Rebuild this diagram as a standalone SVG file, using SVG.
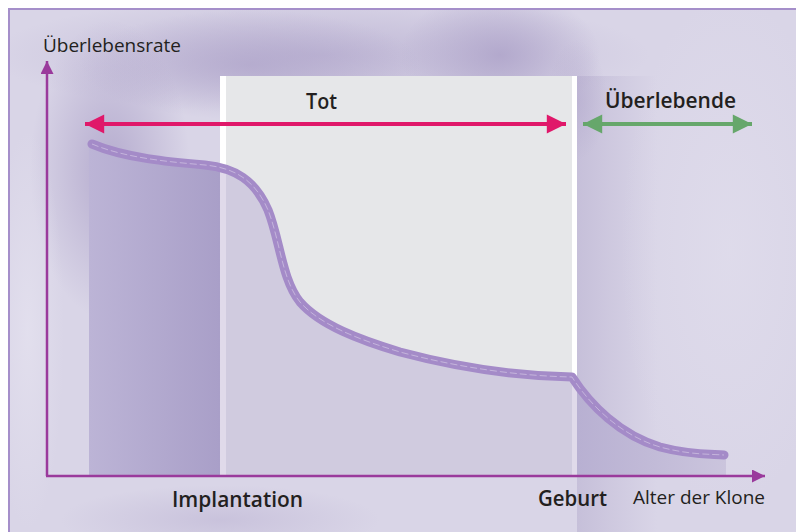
<svg xmlns="http://www.w3.org/2000/svg" width="796" height="532" viewBox="0 0 796 532">
<defs>
<style>
.lbl{font-family:"Open Sans","Noto Sans","Liberation Sans",sans-serif;fill:#231f20}
.reg{font-size:18px;font-weight:400}
.bold{font-size:21px;font-weight:600}
.axis{stroke:#9a3a9c;stroke-width:2.5;fill:none}
</style>
<clipPath id="frameClip"><rect x="10" y="10" width="786" height="522"/></clipPath>
<radialGradient id="blot" cx="0.5" cy="0.5" r="0.5">
<stop offset="0" stop-color="#aca1c8" stop-opacity="0.8"/>
<stop offset="1" stop-color="#aca1c8" stop-opacity="0"/>
</radialGradient>
<radialGradient id="lite" cx="0.5" cy="0.5" r="0.5">
<stop offset="0" stop-color="#e3e0ee" stop-opacity="0.9"/>
<stop offset="1" stop-color="#e3e0ee" stop-opacity="0"/>
</radialGradient>
<linearGradient id="rightEdge" x1="0" y1="0" x2="1" y2="0">
<stop offset="0" stop-color="#b3aacc" stop-opacity="0.5"/>
<stop offset="1" stop-color="#b3aacc" stop-opacity="0"/>
</linearGradient>
<linearGradient id="leftFill" x1="0" y1="0" x2="1" y2="0">
<stop offset="0" stop-color="#bcb4d6"/>
<stop offset="1" stop-color="#a99fc8"/>
</linearGradient>
<linearGradient id="rightFill" x1="0" y1="0" x2="1" y2="0">
<stop offset="0" stop-color="#b8b0d2"/>
<stop offset="1" stop-color="#cbc5dd"/>
</linearGradient>
<clipPath id="under">
<path d="M 89,144 L 92,144 C 125,158 170,162 205,165 C 235,168 255,180 268,210 C 280,240 282,280 300,302 C 320,325 360,340 400,352 C 460,368 520,376 572,377 C 590,405 620,435 660,447 C 690,455 710,454 726,455 L 726,475 L 89,475 Z"/>
</clipPath>
<marker id="mPink" viewBox="0 0 10 10" refX="10" refY="5" markerWidth="5.5" markerHeight="4.8" markerUnits="strokeWidth" orient="auto-start-reverse">
<path d="M0,0 L10,5 L0,10 Z" fill="#e0186a"/>
</marker>
<marker id="mGreen" viewBox="0 0 10 10" refX="10" refY="5" markerWidth="5.5" markerHeight="4.8" markerUnits="strokeWidth" orient="auto-start-reverse">
<path d="M0,0 L10,5 L0,10 Z" fill="#66a76b"/>
</marker>
<marker id="mAxis" viewBox="0 0 10 10" refX="10" refY="5" markerWidth="6.4" markerHeight="5.2" markerUnits="strokeWidth" orient="auto">
<path d="M0,0 L10,5 L0,10 Z" fill="#9a3a9c"/>
</marker>
</defs>

<g id="background">
<rect x="0" y="0" width="796" height="532" fill="#ffffff"/>
<rect x="9" y="9" width="800" height="540" fill="#d9d5e7" stroke="#a58fca" stroke-width="2"/>
<g clip-path="url(#frameClip)">
<ellipse cx="320" cy="55" rx="330" ry="60" fill="url(#blot)" opacity="0.7"/>
<ellipse cx="250" cy="65" rx="170" ry="55" fill="url(#blot)" opacity="0.8"/>
<ellipse cx="500" cy="55" rx="100" ry="65" fill="url(#blot)"/>
<ellipse cx="110" cy="170" rx="80" ry="150" fill="url(#blot)"/>
<ellipse cx="220" cy="520" rx="160" ry="35" fill="url(#blot)" opacity="0.45"/>
<rect x="577" y="76" width="80" height="456" fill="url(#rightEdge)"/>
<ellipse cx="577" cy="100" rx="30" ry="60" fill="url(#blot)" opacity="0.5"/>
<ellipse cx="28" cy="330" rx="36" ry="200" fill="url(#lite)"/>
<ellipse cx="730" cy="250" rx="110" ry="260" fill="url(#lite)" opacity="0.6"/>
</g>
</g>

<g id="panel">
<rect x="220" y="76" width="357" height="400" fill="#ffffff"/>
<rect x="226" y="76" width="346" height="400" fill="#e6e7e9"/>
</g>

<g id="area" clip-path="url(#under)">
<rect x="89" y="130" width="131" height="346" fill="url(#leftFill)"/>
<rect x="220" y="130" width="357" height="346" fill="#e0daea"/>
<rect x="226" y="130" width="346" height="346" fill="#d0cbdf"/>
<rect x="577" y="130" width="150" height="346" fill="url(#rightFill)"/>
</g>

<g id="curve">
<path d="M 92,144 C 125,158 170,162 205,165 C 235,168 255,180 268,210 C 280,240 282,280 300,302 C 320,325 360,340 400,352 C 460,368 520,376 572,377 C 590,405 620,435 660,447 C 690,455 710,454 724,455" fill="none" stroke="#a48bc8" stroke-width="9" stroke-linecap="round" stroke-linejoin="round"/>
<path d="M 92,144 C 125,158 170,162 205,165 C 235,168 255,180 268,210 C 280,240 282,280 300,302 C 320,325 360,340 400,352 C 460,368 520,376 572,377 C 590,405 620,435 660,447 C 690,455 710,454 724,455" fill="none" stroke="#ffffff" stroke-opacity="0.45" stroke-width="0.8" stroke-dasharray="7 3"/>
</g>

<g id="axes">
<line class="axis" x1="47" y1="476" x2="47" y2="61" marker-end="url(#mAxis)"/>
<line class="axis" x1="46" y1="476" x2="765" y2="476" marker-end="url(#mAxis)"/>
</g>

<g id="connectors">
<line x1="85" y1="124" x2="566" y2="124" stroke="#e0186a" stroke-width="4" marker-start="url(#mPink)" marker-end="url(#mPink)"/>
<line x1="583" y1="124" x2="752" y2="124" stroke="#66a76b" stroke-width="4" marker-start="url(#mGreen)" marker-end="url(#mGreen)"/>
</g>

<g id="labels">
<text id="ylabel" class="lbl reg" x="43" y="52" textLength="138" lengthAdjust="spacingAndGlyphs">Überlebensrate</text>
<text id="tot" class="lbl bold" x="306" y="109" textLength="31" lengthAdjust="spacingAndGlyphs">Tot</text>
<text id="ueberlebende" class="lbl bold" x="605" y="108" textLength="131" lengthAdjust="spacingAndGlyphs">Überlebende</text>
<text id="implantation" class="lbl bold" x="172" y="507" textLength="131" lengthAdjust="spacingAndGlyphs">Implantation</text>
<text id="geburt" class="lbl bold" x="538" y="506" textLength="69" lengthAdjust="spacingAndGlyphs">Geburt</text>
<text id="xlabel" class="lbl reg" x="633" y="504" textLength="132" lengthAdjust="spacingAndGlyphs">Alter der Klone</text>
</g>
</svg>
